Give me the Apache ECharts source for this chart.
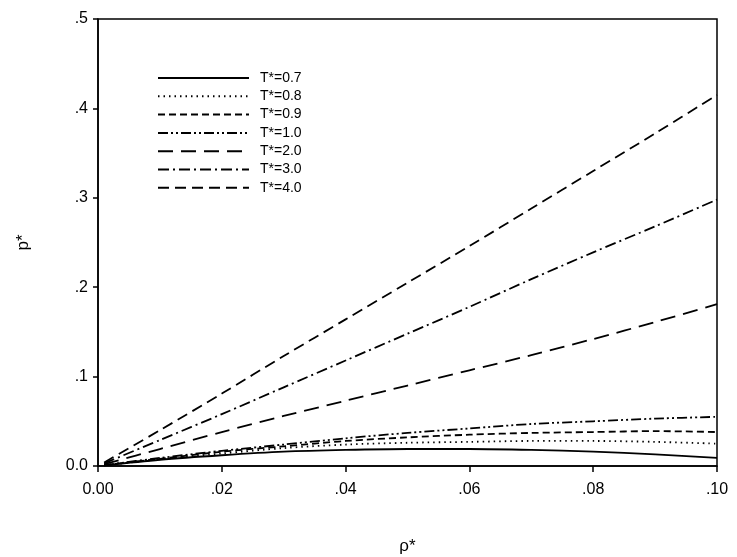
<!DOCTYPE html>
<html>
<head>
<meta charset="utf-8">
<script src="https://cdn.jsdelivr.net/npm/echarts@6/dist/echarts.min.js"></script>
<style>
	html, body { margin: 0; padding: 0; background: #fff; }
	#main { width: 737px; height: 557px; }
</style>
</head>
<body>
<div id="main"></div>
<script>
// density points (x axis)
var rho = [0.001, 0.01, 0.02, 0.03, 0.04, 0.05, 0.06, 0.07, 0.08, 0.09, 0.10];

// pressure, one array per temperature
var p07 = [0.0007, 0.007, 0.012, 0.016, 0.018, 0.019, 0.019, 0.018, 0.016, 0.013, 0.009];
var p08 = [0.0008, 0.0075, 0.014, 0.020, 0.024, 0.026, 0.027, 0.028, 0.028, 0.027, 0.025];
var p09 = [0.0009, 0.008, 0.016, 0.022, 0.028, 0.032, 0.035, 0.037, 0.038, 0.039, 0.038];
var p10 = [0.001, 0.009, 0.017, 0.024, 0.031, 0.037, 0.042, 0.047, 0.050, 0.053, 0.055];
var p20 = [0.002, 0.019, 0.038, 0.056, 0.073, 0.090, 0.107, 0.124, 0.142, 0.161, 0.181];
var p30 = [0.003, 0.029, 0.058, 0.088, 0.118, 0.148, 0.178, 0.209, 0.239, 0.268, 0.298];
var p40 = [0.004, 0.040, 0.081, 0.123, 0.164, 0.205, 0.246, 0.288, 0.330, 0.372, 0.415];

var names = ["T*=0.7", "T*=0.8", "T*=0.9", "T*=1.0", "T*=2.0", "T*=3.0", "T*=4.0"];
var values = [p07, p08, p09, p10, p20, p30, p40];
var dashes = ['solid', [1.5, 4], [7, 4], [10, 3, 2, 3, 2, 3], [15, 8], [11, 4, 2, 4], [11, 6]];

function pairs(arr) {
	var out = [];
	for(var i = 0; i < rho.length; i++) {
		out.push([rho[i], arr[i]]);
	}
	return out;
}

var series = [];
for(var i = 0; i < names.length; i++) {
	series.push({
		name: names[i],
		type: 'line',
		data: pairs(values[i]),
		smooth: 0.3,
		symbol: 'none',
		lineStyle: { color: '#000', width: 1.8, type: dashes[i] },
		itemStyle: { color: '#000' }
	});
}

var chart = echarts.init(document.getElementById('main'));
chart.setOption({
	animation: false,
	backgroundColor: '#fff',
	textStyle: { fontFamily: 'Liberation Sans, Arial, sans-serif', color: '#000' },
	grid: {
		left: 98, right: 20, top: 19, bottom: 91,
		outerBoundsMode: 'none', containLabel: false,
		show: true, borderColor: '#000', borderWidth: 1.5
	},
	legend: {
		orient: 'vertical',
		left: 152,
		top: 66,
		itemWidth: 91,
		itemHeight: 14,
		itemGap: 4.3,
		itemStyle: { opacity: 0 },
		textStyle: { fontSize: 14, color: '#000', padding: [0, 0, 0, 6] },
		data: names
	},
	xAxis: {
		type: 'value',
		min: 0,
		max: 0.1,
		interval: 0.02,
		name: 'ρ*',
		nameLocation: 'middle',
		nameGap: 72,
		nameTextStyle: { fontSize: 17, color: '#000' },
		axisLine: { lineStyle: { color: '#000', width: 1.5 } },
		axisTick: { show: true, length: 6, lineStyle: { color: '#000', width: 1.5 } },
		axisLabel: {
			margin: 16, fontSize: 16, color: '#000',
			formatter: function(v) { return v == 0 ? '0.00' : v.toFixed(2).replace(/^0/, ''); }
		},
		splitLine: { show: false }
	},
	yAxis: {
		type: 'value',
		min: 0,
		max: 0.5,
		interval: 0.1,
		name: 'p*',
		nameLocation: 'middle',
		nameRotate: 90,
		nameGap: 66,
		nameTextStyle: { fontSize: 17, color: '#000' },
		axisLine: { lineStyle: { color: '#000', width: 1.5 } },
		axisTick: { show: true, length: 5, lineStyle: { color: '#000', width: 1.5 } },
		axisLabel: {
			margin: 10, fontSize: 16, color: '#000',
			formatter: function(v) { return v == 0 ? '0.0' : v.toFixed(1).replace(/^0/, ''); }
		},
		splitLine: { show: false }
	},
	series: series
});
</script>
</body>
</html>
